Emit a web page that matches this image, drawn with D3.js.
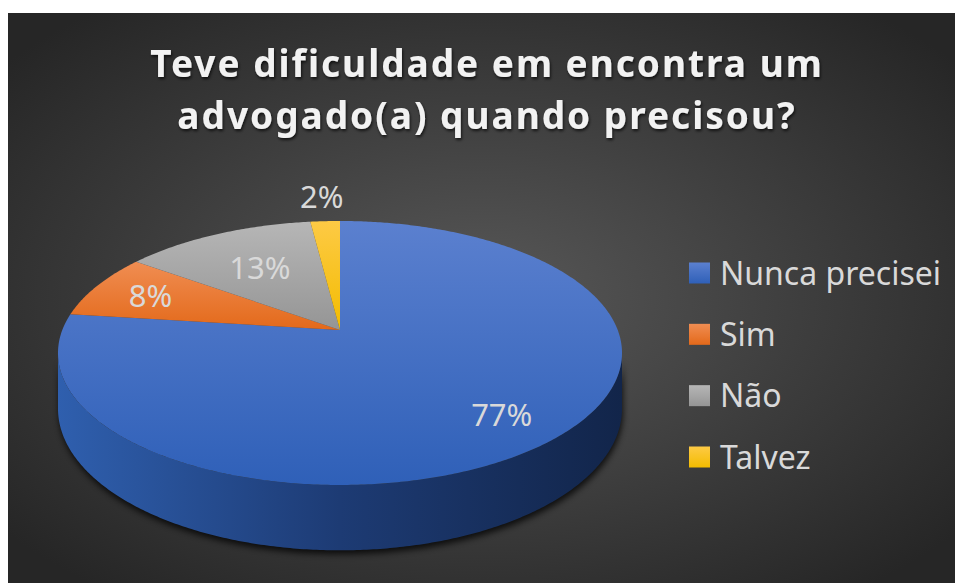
<!DOCTYPE html>
<html>
<head>
<meta charset="utf-8">
<script src="https://cdn.jsdelivr.net/npm/d3@7"></script>
<style>
  body { margin: 0; background: #ffffff; }
</style>
</head>
<body>
<div id="chart"></div>
<script>
// data
const categories = ["Nunca precisei", "Sim", "Não", "Talvez"]
const values = [77, 8, 13, 2]
const valueLabels = ["77%", "8%", "13%", "2%"]
const titleLines = ["Teve dificuldade em encontra um", "advogado(a) quando precisou?"]

const topColors = [["#5b80cf", "#2f60b8"], ["#f08d52", "#e3691a"], ["#b6b6b6", "#959595"], ["#fdca45", "#f3bc00"]]
const labelRadius = [0.79, 0.77, 0.62, 1.27]

const W = 955, H = 583
const cx = 340, cy = 330, rx = 277.7, ry = 128, k = 0.174, depth = 54

const svg = d3.select("#chart").append("svg")
    .attr("width", W)
    .attr("height", H)

const defs = svg.append("defs")

let bg = defs.append("radialGradient").attr("id", "bg")
    .attr("cx", "50%").attr("cy", "50%").attr("r", "65%")
bg.append("stop").attr("offset", "0").attr("stop-color", "#585858")
bg.append("stop").attr("offset", "1").attr("stop-color", "#262626")

topColors.forEach(function (c, i) {
    let g = defs.append("linearGradient").attr("id", "top" + i)
        .attr("x1", 0).attr("y1", 0).attr("x2", 0).attr("y2", 1)
    g.append("stop").attr("offset", "0").attr("stop-color", c[0])
    g.append("stop").attr("offset", "1").attr("stop-color", c[1])
})

let side = defs.append("linearGradient").attr("id", "side")
    .attr("x1", 0).attr("y1", 0).attr("x2", 1).attr("y2", 0)
side.append("stop").attr("offset", "0").attr("stop-color", "#2f5fae")
side.append("stop").attr("offset", "0.5").attr("stop-color", "#1d3b74")
side.append("stop").attr("offset", "1").attr("stop-color", "#12254a")

defs.append("filter").attr("id", "blur")
    .attr("x", "-10%").attr("y", "-10%").attr("width", "120%").attr("height", "130%")
    .append("feGaussianBlur").attr("stdDeviation", 3)

let ts = defs.append("filter").attr("id", "tshadow")
ts.append("feDropShadow").attr("dx", 1).attr("dy", 2).attr("stdDeviation", 1.5)
    .attr("flood-color", "#000").attr("flood-opacity", 0.7)

svg.append("rect")
    .attr("x", 8).attr("y", 13)
    .attr("width", W - 8).attr("height", H - 13)
    .attr("fill", "url(#bg)")

// title
svg.append("g").selectAll("text")
    .data(titleLines)
    .enter().append("text")
    .attr("x", 487)
    .attr("y", function (d, i) { return 77 + i * 52 })
    .attr("text-anchor", "middle")
    .attr("font-family", "Noto Sans")
    .attr("font-weight", "bold")
    .attr("font-size", "37px")
    .attr("letter-spacing", "2px")
    .attr("fill", "#f2f2f2")
    .attr("filter", "url(#tshadow)")
    .text(function (d) { return d })

// projected pie
function proj(a, f, dz) {
    let u = Math.sin(a) * f, v = -Math.cos(a) * f
    let w = 1 - k * v
    return [cx + rx * u / w, cy + ry * v / w + (dz || 0) / w]
}

function arcPoints(a0, a1, dz) {
    let n = Math.max(2, Math.ceil((a1 - a0) / 0.01))
    return d3.range(n + 1).map(function (i) { return proj(a0 + (a1 - a0) * i / n, 1, dz) })
}

const pie = d3.pie().sort(null).value(function (d) { return d })
const arcs = pie(values)
const line = d3.line()

const sideStart = Math.acos(-k), sideEnd = 2 * Math.PI - Math.acos(-k)

let sides = []
arcs.forEach(function (d, i) {
    let a0 = Math.max(d.startAngle, sideStart), a1 = Math.min(d.endAngle, sideEnd)
    if (a1 > a0) {
        let pts = arcPoints(a0, a1, 0).concat(arcPoints(a0, a1, depth).reverse())
        sides.push(pts)
    }
})

svg.append("g").selectAll("path")
    .data(sides)
    .enter().append("path")
    .attr("d", function (d) { return line(d) + "Z" })
    .attr("fill", "#000")
    .attr("opacity", 0.75)
    .attr("transform", "translate(1,4)")
    .attr("filter", "url(#blur)")

svg.append("g").selectAll("path")
    .data(sides)
    .enter().append("path")
    .attr("d", function (d) { return line(d) + "Z" })
    .attr("fill", "url(#side)")

svg.append("g").selectAll("path")
    .data(arcs)
    .enter().append("path")
    .attr("d", function (d) {
        return line([[cx, cy]].concat(arcPoints(d.startAngle, d.endAngle, 0))) + "Z"
    })
    .attr("fill", function (d, i) { return "url(#top" + i + ")" })

svg.append("g").selectAll("text")
    .data(arcs)
    .enter().append("text")
    .attr("x", function (d, i) { return proj((d.startAngle + d.endAngle) / 2, labelRadius[i])[0] })
    .attr("y", function (d, i) { return proj((d.startAngle + d.endAngle) / 2, labelRadius[i])[1] })
    .attr("dy", "0.36em")
    .attr("text-anchor", "middle")
    .attr("font-family", "Noto Sans")
    .attr("font-size", "31px")
    .attr("fill", "#d9d9d9")
    .text(function (d, i) { return valueLabels[i] })

// legend
const ly = d3.scalePoint().domain(categories).range([273, 457])
let legend = svg.append("g").selectAll("g")
    .data(categories)
    .enter().append("g")
    .attr("transform", function (d) { return `translate(689,${ly(d)})` })
legend.append("rect")
    .attr("x", 0).attr("y", -10.5)
    .attr("width", 21).attr("height", 21)
    .attr("fill", function (d, i) { return "url(#top" + i + ")" })
legend.append("text")
    .attr("x", 31)
    .attr("dy", "0.36em")
    .attr("font-family", "Noto Sans")
    .attr("font-size", "32px")
    .attr("fill", "#d9d9d9")
    .text(function (d) { return d })
</script>
</body>
</html>
